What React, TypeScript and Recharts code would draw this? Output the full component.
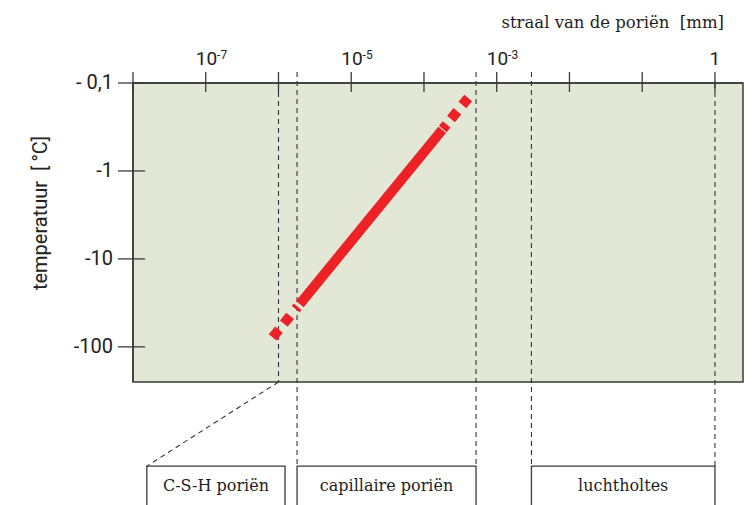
import React from 'react';
import { LineChart, Line, XAxis, YAxis, ReferenceArea, ReferenceLine } from 'recharts';

// Kelvin relation: radius [mm] vs freezing temperature [°C]
const radiusMm = [8.3e-7, 4.05e-4];
const temperatureC = [-78, -0.148];

// top axis (pore radius, mm)
const xTicks = [1e-8, 1e-7, 1e-6, 1e-5, 1e-4, 1e-3, 1e-2, 1e-1, 1];
const xTickLabels = ['', '10|-7', '', '10|-5', '', '10|-3', '', '', '1'];
const xDomain = [1e-8, 2.43];

// left axis (temperature, magnitude on a log scale)
const yTicks = [0.1, 1, 10, 100];
const yTickLabels = ['- 0,1', '-1', '-10', '-100'];
const yDomain = [0.1, 251];

// pore class boundaries (mm)
const classBoundaries = [1e-6, 1.8e-6, 5.2e-4, 3.0e-3, 1];
const poreClasses = ['C-S-H poriën', 'capillaire poriën', 'luchtholtes'];
const classBoxFrom = [1.55e-8, 1.8e-6, 3.0e-3];
const classBoxTo = [1.23e-6, 5.2e-4, 1];

// annotation levels below/above the plot (in temperature-magnitude units)
const aboveLevel = 0.075;
const boxTopLevel = 2270;
const boxBottomLevel = 9600;

const data = radiusMm.map((r, i) => ({ r, t: temperatureC[i] }));

const SANS = 'Roboto, "Noto Sans", sans-serif';
const SERIF = '"DejaVu Serif", serif';
const INK = '#3a3a3a';

const TopTick = (props: any) => {
  const { x, y, index } = props;
  const lab = xTickLabels[index] || '';
  const [base, exp] = lab.split('|');
  return (
    <g>
      <line x1={x} x2={x} y1={y - 11} y2={y + 9} stroke={INK} strokeWidth={1.3} />
      {lab && !exp && (
        <text x={x} y={y - 18} textAnchor="middle" fontFamily={SANS} fontSize={19} fill="#222">
          {base}
        </text>
      )}
      {exp && (
        <text x={x - 10} y={y - 18} textAnchor="start" fontFamily={SANS} fontSize={19} fill="#222">
          {base}
          <tspan dy={-6} fontSize={12}>{exp}</tspan>
        </text>
      )}
    </g>
  );
};

const LeftTick = (props: any) => {
  const { x, y, index } = props;
  return (
    <g>
      <line x1={x - 15} x2={x + 12} y1={y} y2={y} stroke={INK} strokeWidth={1.3} />
      <text x={x - 20} y={y + 6} textAnchor="end" fontFamily={SANS} fontSize={20} fill="#222">
        {yTickLabels[index]}
      </text>
    </g>
  );
};

export default function App() {
  return (
    <div style={{ position: 'absolute', left: 0, top: 0, width: 753, height: 505, background: '#fff' }}>
      <LineChart
        width={753}
        height={505}
        data={data}
        margin={{ top: 23, right: 10, bottom: 123, left: 33 }}
      >
        <ReferenceArea
          x1={xDomain[0]}
          x2={xDomain[1]}
          y1={yDomain[0]}
          y2={yDomain[1]}
          fill="#e3e7d5"
          fillOpacity={1}
          stroke={INK}
          strokeWidth={1.5}
        />
        <XAxis
          dataKey="r"
          type="number"
          scale="log"
          orientation="top"
          domain={xDomain}
          allowDataOverflow
          ticks={xTicks}
          interval={0}
          height={60}
          tickSize={0}
          tickMargin={0}
          tickLine={false}
          axisLine={{ stroke: INK, strokeWidth: 1.5 }}
          tick={<TopTick />}
        />
        <YAxis
          type="number"
          scale="log"
          domain={yDomain}
          allowDataOverflow
          reversed
          ticks={yTicks}
          interval={0}
          width={100}
          tickSize={0}
          tickMargin={0}
          tickLine={false}
          axisLine={{ stroke: INK, strokeWidth: 1.5 }}
          tick={<LeftTick />}
        />
        {classBoundaries.map((b, i) => (
          <ReferenceLine
            key={'b' + i}
            segment={[
              { x: b, y: i === 0 || i === 4 ? yDomain[0] : aboveLevel },
              { x: b, y: i === 0 ? yDomain[1] : boxTopLevel },
            ]}
            stroke="#333"
            strokeWidth={1.1}
            strokeDasharray="5 4"
            ifOverflow="visible"
          />
        ))}
        <ReferenceLine
          segment={[
            { x: classBoundaries[0], y: yDomain[1] },
            { x: classBoxFrom[0], y: boxTopLevel },
          ]}
          stroke="#333"
          strokeWidth={1.1}
          strokeDasharray="5 4"
          ifOverflow="visible"
        />
        {poreClasses.map((name, i) => (
          <ReferenceArea
            key={'c' + i}
            x1={classBoxFrom[i]}
            x2={classBoxTo[i]}
            y1={boxTopLevel}
            y2={boxBottomLevel}
            fill="none"
            stroke={INK}
            strokeWidth={1.3}
            ifOverflow="visible"
            label={{
              value: name,
              position: 'insideTop',
              offset: 14,
              fill: '#1e1e1e',
              fontSize: 16,
              fontFamily: SERIF,
            }}
          />
        ))}
        <Line
          dataKey={(d: any) => -d.t}
          stroke="#ec2227"
          strokeWidth={10}
          strokeLinecap="butt"
          dot={false}
          activeDot={false}
          strokeDasharray="10 7.7 10 8.8 3 3.5 225 1 6 7 10 8 10 60"
          isAnimationActive={false}
        />
      </LineChart>
      <svg width={753} height={505} style={{ position: 'absolute', left: 0, top: 0, pointerEvents: 'none' }}>
        <text x={724} y={28} textAnchor="end" fontFamily={SERIF} fontSize={16.5} fill="#1e1e1e" style={{ whiteSpace: 'pre' }}>
          {'straal van de poriën\u00a0 [mm]'}
        </text>
        <text
          x={0}
          y={0}
          transform="translate(47 213) rotate(-90)"
          textAnchor="middle"
          fontFamily={SANS}
          fontSize={20}
          fill="#222"
          style={{ whiteSpace: 'pre' }}
        >
          {'temperatuur\u00a0 [\u2009°C]'}
        </text>
      </svg>
    </div>
  );
}
